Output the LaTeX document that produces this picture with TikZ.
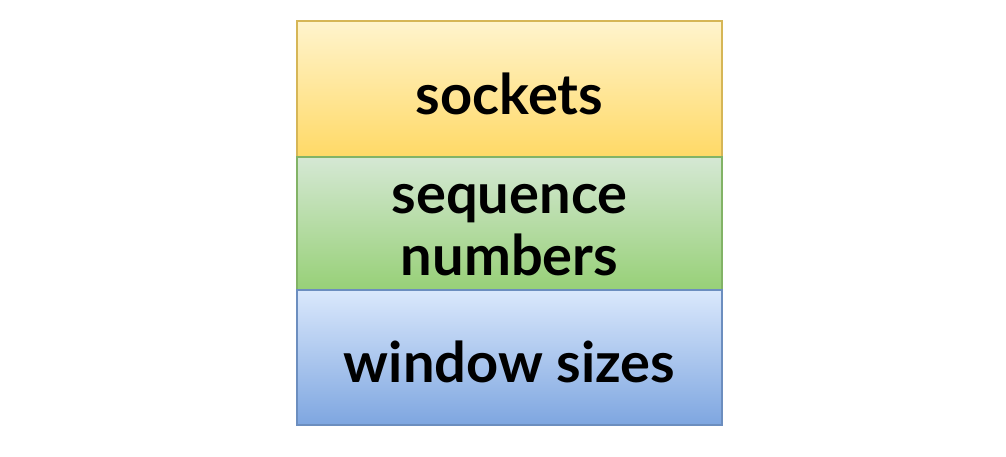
\documentclass[tikz,border=0pt]{standalone}
\usepackage{fontspec}
\setmainfont{Lato}
\begin{document}
\begin{tikzpicture}[x=1pt,y=-1pt,
  layer/.style={draw=#1,line width=2.5pt},
  lbl/.style={font=\fontsize{56}{62}\selectfont\bfseries,text=black,align=center}]
\useasboundingbox[fill=white] (0,0) rectangle (1006,456);
\definecolor{ybord}{HTML}{D6B656}
\definecolor{gbord}{HTML}{82B366}
\definecolor{bbord}{HTML}{6C8EBF}
\shade[top color={rgb,255:red,255;green,244;blue,205},bottom color={rgb,255:red,255;green,217;blue,102}] (297,21) rectangle (722,157);
\shade[top color={rgb,255:red,213;green,232;blue,212},bottom color={rgb,255:red,151;green,208;blue,119}] (297,157) rectangle (722,290);
\shade[top color={rgb,255:red,218;green,232;blue,252},bottom color={rgb,255:red,126;green,166;blue,224}] (297,290) rectangle (722,425);
\draw[layer=ybord] (297,21) rectangle (722,157);
\draw[layer=gbord] (297,157) rectangle (722,290);
\draw[layer=bbord] (297,290) rectangle (722,425);
\node[lbl] (s) at (509.5,94) {sockets};
\node[lbl] (q) at (509.5,230) {sequence\\numbers};
\node[lbl] (w) at (509.5,362) {window sizes};
\end{tikzpicture}
\end{document}
